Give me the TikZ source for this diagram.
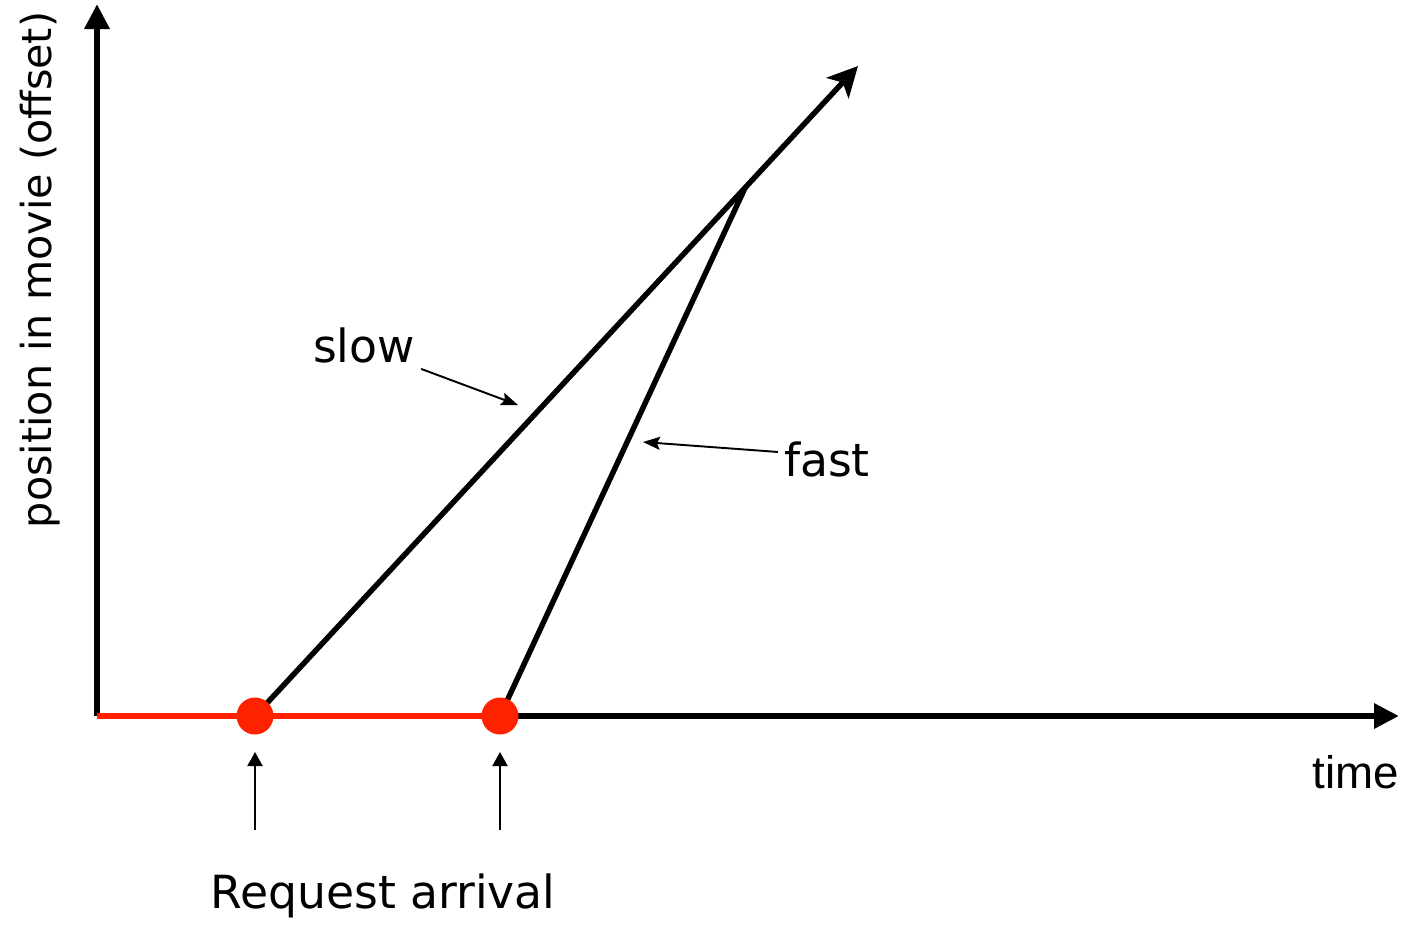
\documentclass[tikz,border=0pt]{standalone}
\usepackage{fontspec}
\setmainfont{DejaVu Sans}
\newfontfamily\timefont{Liberation Sans}
\usetikzlibrary{arrows.meta}
\definecolor{arrivalred}{HTML}{FF2200}

\begin{document}
\begin{tikzpicture}[
  x=0.02cm, y=-0.02cm,
  font=\fontsize{26}{30}\selectfont,
  axis/.style={line width=3.8pt, -{Triangle[length=5mm, width=4.8mm]}},
  redline/.style={line width=3.6pt, color=arrivalred},
  movie/.style={line width=3.1pt},
  pointer/.style={line width=1.1pt, -{Stealth[length=3.4mm, width=2.6mm, inset=0.6mm]}},
  uparrow/.style={line width=1.1pt, -{Triangle[length=2.8mm, width=3mm]}, shorten >=0.72cm},
  dot/.style={circle, fill=arrivalred, minimum size=0.74cm, inner sep=0pt}
]
\useasboundingbox (0,0) rectangle (1407,924);
% axes
\coordinate (origin) at (97,716);
\coordinate (ytop) at (97,4);
\coordinate (xend) at (1399,716);
\draw[axis] (origin) -- (ytop);
\draw[axis] (origin) -- (xend);
\node[rotate=90, font=\fontsize{23.5}{27}\selectfont] (ylabel) at (40,270) {position in movie (offset)};
\node[font=\fontsize{26}{30}\selectfont\timefont] (time) at (1356,772) {time};
% request arrivals
\coordinate (reqa) at (255,716);
\coordinate (reqb) at (500,716);
\draw[redline] (origin) -- (reqb);
\coordinate (slowtip) at (858,66);
\coordinate (meet) at (745,188);
\draw[movie, -{Stealth[length=6mm, width=6mm, inset=1.5mm]}] (reqa) -- (slowtip);
\draw[movie] (reqb) -- (meet);
\node[dot] (dota) at (reqa) {};
\node[dot] (dotb) at (reqb) {};
% labels
\node (slow) at (364,345) {slow};
\coordinate (slowpt) at (518,405);
\draw[pointer] (slow.south east) -- (slowpt);
\node (fast) at (827,459) {fast};
\coordinate (fastpt) at (643,442);
\draw[pointer] ([yshift=4pt]fast.west) -- (fastpt);
\node (request) at (383,896) {Request arrival};
\coordinate (taila) at (255,830);
\coordinate (tailb) at (500,830);
\draw[uparrow] (taila) -- (dota.center);
\draw[uparrow] (tailb) -- (dotb.center);
\end{tikzpicture}
\end{document}
